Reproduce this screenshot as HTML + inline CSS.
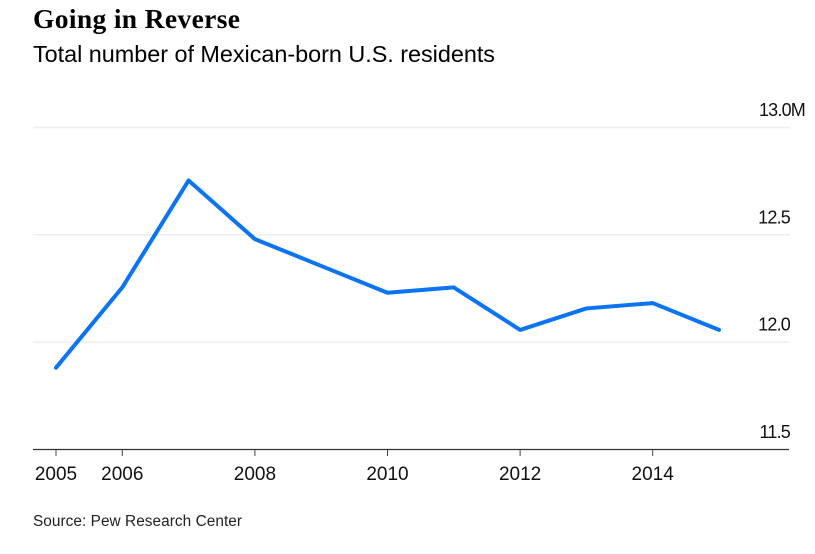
<!DOCTYPE html>
<html lang="en">
<head>
<meta charset="utf-8">
<title>Going in Reverse</title>
<style>
html,body{margin:0;padding:0;background:#fff;width:815px;height:554px;overflow:hidden}
svg{display:block}
text{font-family:"Liberation Sans",sans-serif;fill:#111}
</style>
</head>
<body>
<svg id="chart" width="815" height="554" viewBox="0 0 815 554" xmlns="http://www.w3.org/2000/svg">
<text x="33" y="28" textLength="207" lengthAdjust="spacing" style="font-family:'Liberation Serif',serif;font-weight:700;font-size:27.5px;fill:#000">Going in Reverse</text>
<text x="33" y="62" textLength="462" lengthAdjust="spacing" style="font-size:23.4px;fill:#000">Total number of Mexican-born U.S. residents</text>
<g id="grid"></g>
<g id="yticks"></g>
<line x1="33" x2="789" y1="449.5" y2="449.5" stroke="#333" stroke-width="1.3"></line>
<g id="xticks"></g>
<path id="series" fill="none" stroke="#0a74f5" stroke-width="4" stroke-linejoin="round" stroke-linecap="round"></path>
<text x="33" y="526" textLength="209" lengthAdjust="spacing" style="font-size:15.4px;fill:#222">Source: Pew Research Center</text>
</svg>
<script>
const years = [2005, 2006, 2007, 2008, 2009, 2010, 2011, 2012, 2013, 2014, 2015];
const residents = [11.881, 12.255, 12.753, 12.48, 12.355, 12.23, 12.255, 12.057, 12.157, 12.182, 12.057];
const xTickYears = [2005, 2006, 2008, 2010, 2012, 2014];
const yTickValues = [13, 12.5, 12, 11.5];
const yTickLabels = ['13.0M', '12.5', '12.0', '11.5'];

const NS = 'http://www.w3.org/2000/svg';
const xScale = function (year) { return 56 + (year - 2005) * 66.3; };
const yScale = function (value) { return 449.5 - (value - 11.5) * 214.7; };

const grid = document.getElementById('grid');
const yticks = document.getElementById('yticks');
yTickValues.forEach(function (value, i) {
  if (value > 11.5) {
    const line = document.createElementNS(NS, 'line');
    
    
    line.setAttribute('x1', 33);
    line.setAttribute('x2', 790);
    line.setAttribute('y1', yScale(value));
    line.setAttribute('y2', yScale(value));
    line.setAttribute('stroke', '#eeeeee');
    line.setAttribute('stroke-width', 1.5);
    grid.appendChild(line);
  }
  const label = document.createElementNS(NS, 'text');
  
  
  label.setAttribute('x', i === 0 ? 805 : 790);
  label.setAttribute('y', yScale(value) - 11.5);
  label.setAttribute('text-anchor', 'end');
  label.setAttribute('letter-spacing', '-0.8');
  label.setAttribute('font-size', '18');
  label.textContent = yTickLabels[i];
  yticks.appendChild(label);
});

const xticks = document.getElementById('xticks');
xTickYears.forEach(function (year) {
  const tick = document.createElementNS(NS, 'line');
  
  
  tick.setAttribute('x1', xScale(year));
  tick.setAttribute('x2', xScale(year));
  tick.setAttribute('y1', 449.5);
  tick.setAttribute('y2', 456);
  tick.setAttribute('stroke', '#444');
  tick.setAttribute('stroke-width', 1);
  xticks.appendChild(tick);
  const label = document.createElementNS(NS, 'text');
  
  
  label.setAttribute('x', xScale(year));
  label.setAttribute('y', 480);
  label.setAttribute('text-anchor', 'middle');
  label.setAttribute('font-size', '19');
  label.textContent = year;
  xticks.appendChild(label);
});

document.getElementById('series').setAttribute('d', years.map(function (year, i) {
  return (i ? 'L' : 'M') + xScale(year) + ' ' + yScale(residents[i]);
}).join(' '));
</script>
</body>
</html>
